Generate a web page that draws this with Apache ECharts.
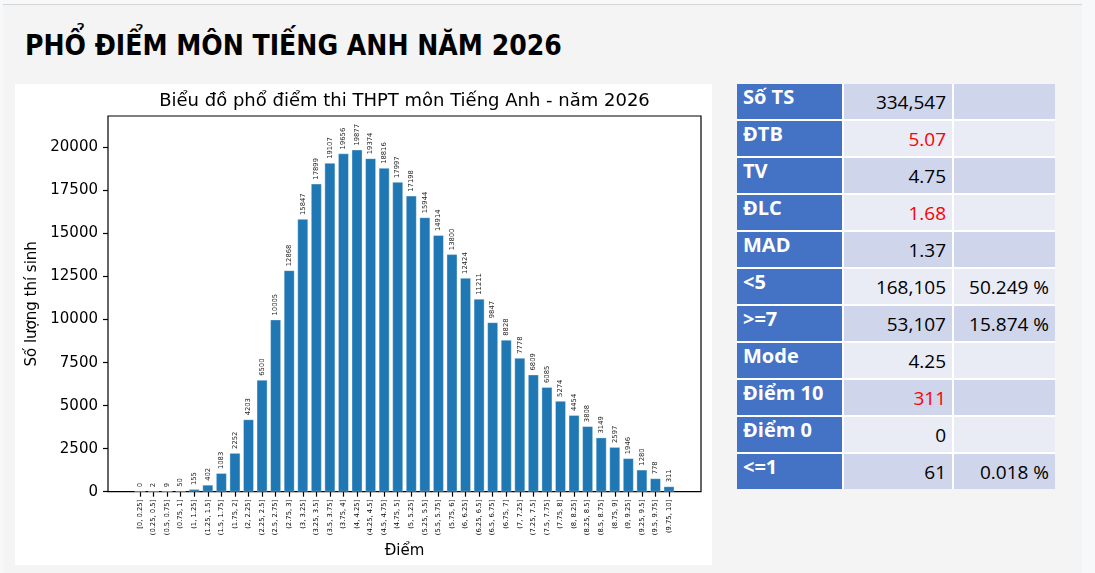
<!DOCTYPE html>
<html><head><meta charset="utf-8">
<script src="https://cdn.jsdelivr.net/npm/echarts@6/dist/echarts.min.js"></script>
<style>
html,body{margin:0;padding:0;width:1095px;height:573px;overflow:hidden;background:#f7f8fa;}
#panel{position:absolute;left:3px;top:4px;width:1079px;height:569px;background:#f4f4f4;border-top:1px solid #d6d6d6;}
#pageTitle{position:absolute;left:25px;top:32px;font-family:"DejaVu Sans Condensed","DejaVu Sans";font-stretch:condensed;font-weight:bold;font-size:28px;line-height:28px;color:#000;white-space:nowrap;}
#chart{position:absolute;left:15px;top:84px;width:697px;height:481px;background:#fff;}
#stats{position:absolute;left:737px;top:84px;width:318px;display:grid;grid-template-columns:105px 108px 101px;grid-auto-rows:35px;gap:2px;background:#fff;font-family:"Open Sans";}
#stats div{box-sizing:border-box;white-space:nowrap;overflow:hidden;}
.lab{background:#4472c4;color:#fff;font-weight:bold;font-size:20px;line-height:20px;padding:3px 0 0 6px;}
.val{font-size:19px;line-height:19px;padding:9px 6px 0 0;text-align:right;color:#000;}
.odd{background:#cfd5ea;}
.even{background:#e9ebf5;}
.red{color:#ff0000;}
</style>
</head>
<body>
<div id="panel"></div>
<div id="pageTitle">PHỔ ĐIỂM MÔN TIẾNG ANH NĂM 2026</div>
<div id="chart"></div>
<div id="stats"></div>
<script>
// ---- data ----
const chartTitle = 'Biểu đồ phổ điểm thi THPT môn Tiếng Anh - năm 2026';
const xName = 'Điểm';
const yName = 'Số lượng thí sinh';
const categories = ['[0, 0.25]','(0.25, 0.5]','(0.5, 0.75]','(0.75, 1]','(1, 1.25]','(1.25, 1.5]','(1.5, 1.75]','(1.75, 2]','(2, 2.25]','(2.25, 2.5]','(2.5, 2.75]','(2.75, 3]','(3, 3.25]','(3.25, 3.5]','(3.5, 3.75]','(3.75, 4]','(4, 4.25]','(4.25, 4.5]','(4.5, 4.75]','(4.75, 5]','(5, 5.25]','(5.25, 5.5]','(5.5, 5.75]','(5.75, 6]','(6, 6.25]','(6.25, 6.5]','(6.5, 6.75]','(6.75, 7]','(7, 7.25]','(7.25, 7.5]','(7.5, 7.75]','(7.75, 8]','(8, 8.25]','(8.25, 8.5]','(8.5, 8.75]','(8.75, 9]','(9, 9.25]','(9.25, 9.5]','(9.5, 9.75]','(9.75, 10]'];
const counts = [0,2,9,50,155,402,1083,2252,4203,6500,10005,12868,15847,17899,19107,19656,19877,19374,18816,17997,17198,15944,14914,13800,12424,11211,9847,8828,7778,6809,6085,5274,4454,3808,3149,2597,1946,1280,778,311];
const yTicks = [0,2500,5000,7500,10000,12500,15000,17500,20000];
const yMax = 21830;

const statLabels = ['Số TS','ĐTB','TV','ĐLC','MAD','<5','>=7','Mode','Điểm 10','Điểm 0','<=1'];
const statValues = ['334,547','5.07','4.75','1.68','1.37','168,105','53,107','4.25','311','0','61'];
const statPercents = ['','','','','','50.249 %','15.874 %','','','','0.018 %'];
const statRed = [false,true,false,true,false,false,false,false,true,false,false];

// ---- table ----
const stats = document.getElementById('stats');
statLabels.forEach((lab, i) => {
  const band = i % 2 === 0 ? 'odd' : 'even';
  const a = document.createElement('div'); a.className = 'lab'; a.textContent = lab;
  const b = document.createElement('div'); b.className = 'val ' + band + (statRed[i] ? ' red' : ''); b.textContent = statValues[i];
  const c = document.createElement('div'); c.className = 'val ' + band; c.textContent = statPercents[i];
  stats.appendChild(a); stats.appendChild(b); stats.appendChild(c);
});

// ---- chart ----
const chart = echarts.init(document.getElementById('chart'), null, {renderer: 'canvas'});
const font = 'DejaVu Sans';
const option = {
  animation: false,
  backgroundColor: '#fff',
  grid: [
    {left: 93, right: 11, top: 32, bottom: 73.3, show: true, borderColor: '#000', borderWidth: 1.2, backgroundColor: 'transparent'},
    {left: 118.2, right: 36.2, top: 32, bottom: 73.3}
  ],
  xAxis: [
    {gridIndex: 0, type: 'value', position: 'top', min: 0, max: 1,
     axisLine: {show: false}, axisTick: {show: false}, axisLabel: {show: false}, splitLine: {show: false},
     name: chartTitle, nameLocation: 'middle', nameGap: 6,
     nameTextStyle: {fontFamily: font, fontSize: 18, color: '#000', verticalAlign: 'bottom'}},
    {gridIndex: 1, type: 'category', data: categories, boundaryGap: true,
     axisLine: {show: false},
     axisTick: {show: true, alignWithLabel: true, interval: 0, length: 5, lineStyle: {color: '#000', width: 1.2}},
     axisLabel: {interval: 0, rotate: 90, fontFamily: font, fontSize: 6.8, color: '#000', margin: 8},
     splitLine: {show: false},
     name: xName, nameLocation: 'middle', nameGap: 46,
     nameTextStyle: {fontFamily: font, fontSize: 15, color: '#000'}}
  ],
  yAxis: [
    {gridIndex: 0, type: 'value', min: 0, max: yMax,
     axisLine: {show: false},
     axisTick: {show: true, length: 5, customValues: yTicks, lineStyle: {color: '#000', width: 1.2}},
     axisLabel: {customValues: yTicks, formatter: v => String(v), fontFamily: font, fontSize: 15, color: '#000', margin: 10},
     splitLine: {show: false},
     name: yName, nameLocation: 'middle', nameGap: 56,
     nameTextStyle: {fontFamily: font, fontSize: 15, color: '#000'}},
    {gridIndex: 1, type: 'value', min: 0, max: yMax, show: false, splitLine: {show: false}}
  ],
  series: [{
    type: 'bar', xAxisIndex: 1, yAxisIndex: 1, data: counts, barWidth: '80%',
    itemStyle: {color: '#1f77b4', borderColor: 'rgba(255,255,255,0.45)', borderWidth: 0.8},
    label: {show: true, position: 'top', rotate: 90, align: 'left', verticalAlign: 'middle', distance: 4,
            fontFamily: font, fontSize: 6.8, color: '#222'}
  }]
};
chart.setOption(option);
</script>
</body></html>
